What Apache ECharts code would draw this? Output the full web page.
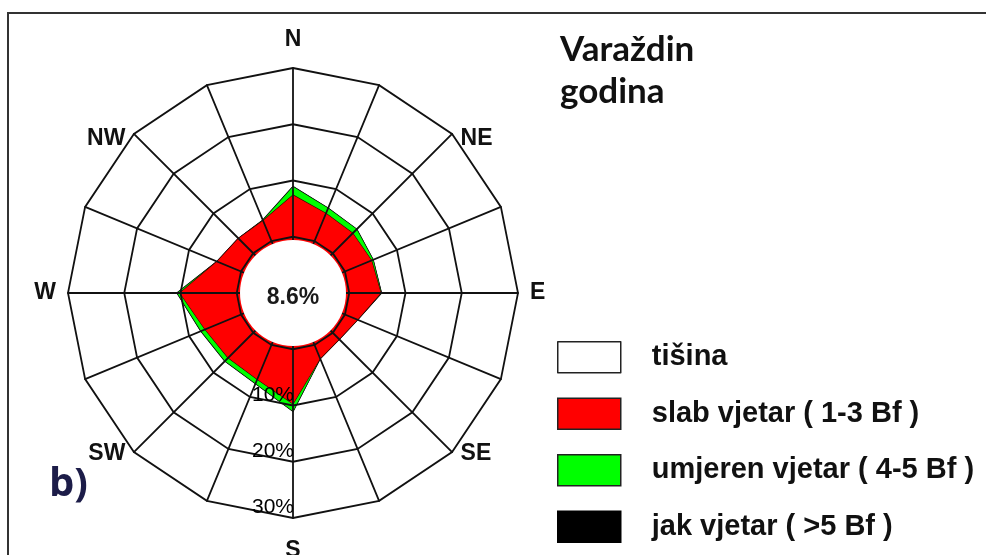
<!DOCTYPE html>
<html><head><meta charset="utf-8">
<script src="https://cdn.jsdelivr.net/npm/echarts@6/dist/echarts.min.js"></script>
<style>html,body{margin:0;padding:0;background:#fff}#c{width:986px;height:555px}</style>
</head><body><div id="c"></div>
<script>
// 16 wind directions (clockwise from north)
const directions = ['N','NNE','NE','ENE','E','ESE','SE','SSE','S','SSW','SW','WSW','W','WNW','NW','NNW'];
const directionLabels = ['N','','NE','','E','','SE','','S','','SW','','W','','NW',''];
// frequencies in %
const slabVjetar    = [7.4,5.3,5.0,5.1,5.6,2.4,1.6,2.6,9.7,6.6,6.3,6.9,10.1,4.6,3.7,3.9];
const umjerenVjetar = [1.5,1.0,1.0,0.3,0.1,0.0,0.0,0.0,1.3,0.8,0.8,0.8,0.5,0.0,0.0,0.1];
const jakVjetar     = [0,0,0,0,0,0,0,0,0,0,0,0,0,0,0,0];
const tisina = 8.6;
// radial scale
const ringValues = [10, 20, 30];
const ringLabels = ['10%', '20%', '30%'];
const axisMin = -10, axisMax = 30;
const legendNames = ['tišina', 'slab vjetar ( 1-3 Bf )', 'umjeren vjetar ( 4-5 Bf )', 'jak vjetar ( >5 Bf )'];
const titleLines = ['Varaždin', 'godina'];
const panelLabel = 'b)';

const CENTER = [293, 293];
const RADIUS = 225;

// radar places indicators counter-clockwise: reorder so that the rose runs clockwise
const order = [0].concat(directions.map((d, i) => i).slice(1).reverse());
const pick = arr => order.map(i => arr[i]);
const totalGreen = slabVjetar.map((v, i) => v + umjerenVjetar[i]);
const totalBlack = totalGreen.map((v, i) => v + jakVjetar[i]);

const indicator = order.map(i => {
  const ind = { name: directionLabels[i], min: axisMin, max: axisMax };
  if (directions[i] === 'S') {
    ind.axisLabel = {
      show: true,
      formatter: v => { const k = ringValues.indexOf(v); return k >= 0 ? ringLabels[k] : ''; },
      fontSize: 21, color: '#000', fontFamily: 'Liberation Sans',
      align: 'right', verticalAlign: 'bottom', margin: 1
    };
  }
  return ind;
});

const nameFont = { fontSize: 23, fontWeight: 'bold', fontFamily: 'Liberation Sans', color: '#111' };
const nameRich = { N: [0,0,5,0], S: [9,0,0,0], NE: [26,0,0,0], NW: [26,0,0,0], SE: [0,0,14,0], SW: [0,0,14,0] };
const rich = {};
Object.keys(nameRich).forEach(k => { rich[k] = Object.assign({ padding: nameRich[k] }, nameFont); });

const chart = echarts.init(document.getElementById('c'), null, { renderer: 'canvas' });
chart.setOption({
  animation: false,
  backgroundColor: '#fff',
  title: [
    { text: titleLines.join('\n'), left: 560, top: 29, padding: 0,
      textStyle: { fontFamily: 'Lato', fontWeight: 'bold', fontSize: 35, lineHeight: 42, color: '#111' } },
    { text: panelLabel, left: 49, top: 465, padding: 0,
      textStyle: { fontFamily: 'Open Sans', fontWeight: 'bold', fontSize: 40, color: '#1c1c48' } }
  ],
  graphic: [{
    type: 'rect', silent: true, z: 0,
    shape: { x: 8, y: 13, width: 1100, height: 700 },
    style: { fill: null, stroke: '#333', lineWidth: 2 }
  }],
  legend: {
    orient: 'vertical', left: 557, top: 341, padding: 0, height: 214,
    itemWidth: 63, itemHeight: 31, itemGap: 24, icon: 'rect', selectedMode: false,
    textStyle: { fontFamily: 'Liberation Sans', fontWeight: 'bold', fontSize: 29, color: '#111',
      lineHeight: 31, padding: [0, 0, 0, 26] },
    data: [
      { name: legendNames[0], itemStyle: { color: '#fff', borderColor: '#222', borderWidth: 1.5 } },
      { name: legendNames[1], itemStyle: { color: '#ff0000', borderColor: '#222', borderWidth: 1.5 } },
      { name: legendNames[2], itemStyle: { color: '#00ff00', borderColor: '#222', borderWidth: 1.5 } },
      { name: legendNames[3], itemStyle: { color: '#000', borderColor: '#000', borderWidth: 1.5 } }
    ]
  },
  radar: {
    center: CENTER, radius: RADIUS, startAngle: 90, splitNumber: 4, shape: 'polygon', z: 3,
    indicator: indicator,
    axisNameGap: 12,
    axisName: Object.assign({
      formatter: name => rich[name] ? '{' + name + '|' + name + '}' : name,
      rich: rich
    }, nameFont),
    axisLine: { lineStyle: { color: '#111', width: 1.8 } },
    splitLine: { lineStyle: { color: '#111', width: 1.8 } },
    splitArea: { show: false },
    axisTick: { show: false },
    axisLabel: { show: false }
  },
  series: [
    {
      type: 'radar', silent: true, symbol: 'none', z: 2,
      lineStyle: { color: '#111', width: 1 },
      emphasis: { disabled: true },
      data: [
        { name: legendNames[3], value: pick(totalBlack),
          itemStyle: { color: '#000' }, areaStyle: { color: '#000', opacity: 1 }, lineStyle: { color: '#000', width: 1.4 } },
        { name: legendNames[2], value: pick(totalGreen),
          itemStyle: { color: '#00ff00' }, areaStyle: { color: '#00ff00', opacity: 1 }, lineStyle: { color: '#111', width: 1.2 } },
        { name: legendNames[1], value: pick(slabVjetar),
          itemStyle: { color: '#ff0000' }, areaStyle: { color: '#ff0000', opacity: 1 }, lineStyle: { color: '#3a0000', width: 1.2 } }
      ]
    },
    {
      type: 'pie', name: legendNames[0], center: CENTER, radius: [0, 53], silent: true, z: 10,
      emphasis: { disabled: true }, labelLine: { show: false },
      label: { show: true, position: 'center', formatter: '{t|{c}%}',
        rich: { t: { fontSize: 23, fontWeight: 'bold', fontFamily: 'Liberation Sans', color: '#1a1a1a', padding: [9, 0, 0, 0] } } },
      data: [{ name: legendNames[0], value: tisina, itemStyle: { color: '#fff' } }]
    }
  ]
});
</script></body></html>
